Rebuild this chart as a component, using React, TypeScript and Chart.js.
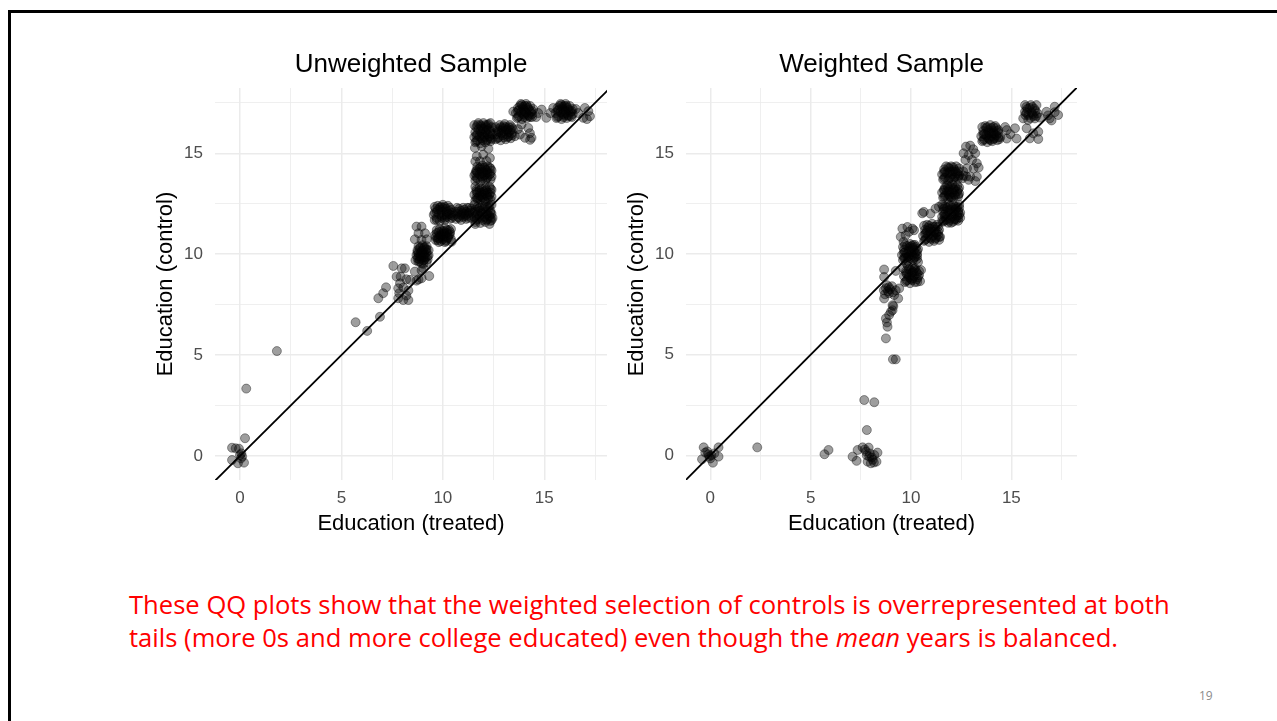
import React, { useEffect, useRef } from 'react';
import { Chart, registerables } from 'chart.js';

Chart.register(...registerables);

// ---- data (treated quantile, control quantile), jittered as in the original QQ plots ----
const unweightedPoints: [number, number][] = [
  [-0.39, 0.41], [-0.21, 0.38], [-0.05, 0.36], [0.07, 0.13], [0.11, -0.03], [-0.39, -0.2], [-0.1, -0.36], [0.2, -0.33], [0.0, 0.05], [0.05, -0.12],
  [0.25, 0.88], [0.31, 3.34], [1.82, 5.2],
  [5.7, 6.63], [6.27, 6.2], [6.9, 6.9], [6.82, 7.82], [7.06, 8.07], [7.2, 8.36],
  [7.56, 9.42], [7.72, 8.89], [7.92, 8.89], [7.97, 9.3], [8.13, 9.3], [7.89, 8.56], [7.8, 8.31], [7.85, 8.07], [7.8, 7.82], [8.05, 7.73],
  [8.3, 7.73], [8.38, 8.73], [8.3, 8.2], [8.05, 8.35], [8.2, 7.95], [8.2, 8.76], [8.62, 9.14], [8.7, 8.69], [8.8, 8.75], [8.95, 8.81],
  [9.33, 8.92], [9.04, 9.3], [8.79, 9.63], [8.95, 9.2],
  [8.65, 9.7], [8.85, 9.65], [9.05, 9.7], [9.25, 9.75], [8.7, 9.95], [8.9, 9.9], [9.1, 10.0], [9.3, 9.95], [8.75, 10.2], [8.95, 10.15],
  [9.15, 10.25], [9.3, 10.2], [8.8, 10.4], [9.0, 10.45], [9.2, 10.4], [8.9, 10.05], [9.05, 10.3], [9.04, 9.52],
  [8.75, 9.8], [8.95, 9.8], [9.15, 9.85], [8.8, 10.05], [9.0, 10.0], [9.2, 10.1], [8.85, 10.3], [9.1, 10.35], [8.95, 9.55], [9.2, 9.6],
  [8.85, 9.75], [9.05, 9.85], [8.8, 9.9], [9.0, 10.2], [9.2, 10.25], [8.9, 10.35], [9.1, 9.75], [8.75, 10.1], [9.25, 9.9], [9.0, 10.1],
  [8.62, 10.74], [8.95, 10.71], [9.2, 10.74], [8.8, 11.04], [9.12, 11.04], [8.7, 11.37], [8.95, 11.37],
  [9.65, 10.7], [9.9, 10.65], [10.15, 10.7], [10.4, 10.75], [9.6, 10.95], [9.85, 10.95], [10.1, 10.9], [10.35, 11.0], [9.7, 11.2], [9.95, 11.15],
  [10.2, 11.2], [10.4, 11.25], [9.8, 10.8], [10.05, 11.05], [10.25, 10.85], [10.43, 10.62],
  [9.75, 10.8], [10.0, 10.75], [10.25, 10.8], [9.7, 11.05], [9.95, 11.0], [10.2, 11.05], [10.35, 11.1], [9.85, 11.25], [10.1, 11.3], [9.8, 10.6], [10.1, 10.6],
  [9.75, 10.7], [10.0, 10.85], [10.3, 10.95], [9.8, 11.1], [10.05, 11.15], [10.3, 11.2], [9.65, 10.85], [10.15, 10.65], [9.9, 10.9], [10.1, 11.0],
  [9.6, 11.7], [9.85, 11.65], [10.1, 11.7], [10.35, 11.75], [9.55, 11.95], [9.8, 12.0], [10.05, 11.95], [10.3, 12.0], [10.5, 11.9], [9.65, 12.25],
  [9.9, 12.2], [10.15, 12.25], [10.4, 12.2], [9.75, 12.4], [10.0, 12.45], [10.25, 12.4],
  [9.7, 11.8], [9.95, 11.8], [10.2, 11.85], [10.45, 11.8], [9.7, 12.1], [9.95, 12.1], [10.2, 12.1], [10.45, 12.05], [9.85, 12.3], [10.1, 12.35], [10.35, 12.3], [9.6, 12.35],
  [9.7, 11.7], [9.95, 11.9], [10.2, 11.95], [10.4, 11.95], [9.75, 12.2], [10.0, 12.3], [10.3, 12.15], [9.6, 12.05], [10.1, 11.8], [9.9, 12.35],
  [10.65, 11.75], [10.9, 11.7], [11.15, 11.75], [11.4, 11.8], [10.7, 12.0], [10.95, 12.05], [11.2, 12.0], [11.45, 12.05], [10.8, 12.25], [11.05, 12.2],
  [11.3, 12.3], [10.6, 12.1], [11.1, 11.9],
  [10.75, 11.85], [11.0, 11.85], [11.25, 11.9], [11.35, 12.15], [10.9, 12.15], [11.15, 12.1], [10.7, 12.3], [11.2, 12.3],
  [10.8, 11.8], [11.05, 12.0], [11.3, 12.05], [11.0, 12.3], [10.75, 12.1], [11.25, 11.8], [11.4, 12.25], [10.9, 11.95],
  [11.6, 11.6], [11.85, 11.55], [12.1, 11.6], [12.35, 11.65], [11.55, 11.85], [11.8, 11.9], [12.05, 11.85], [12.3, 11.9], [12.45, 11.8], [11.6, 12.1],
  [11.85, 12.15], [12.1, 12.1], [12.35, 12.15], [11.7, 12.35], [11.95, 12.4], [12.2, 12.35], [12.4, 12.45], [11.55, 12.45],
  [11.7, 11.75], [11.95, 11.7], [12.2, 11.75], [12.4, 11.7], [11.7, 12.0], [11.95, 12.0], [12.2, 12.0], [12.4, 12.0], [11.75, 12.25], [12.0, 12.25],
  [12.25, 12.25], [11.6, 11.5], [12.3, 11.5],
  [11.65, 11.7], [11.9, 11.8], [12.15, 11.7], [12.35, 11.8], [11.65, 11.95], [11.9, 12.05], [12.15, 11.95], [12.35, 12.05], [11.8, 12.3], [12.05, 12.35],
  [12.3, 12.4], [11.6, 12.2],
  [11.6, 12.65], [11.85, 12.7], [12.1, 12.6], [12.35, 12.7], [11.55, 12.95], [11.8, 12.9], [12.05, 13.0], [12.3, 12.95], [11.65, 13.2], [11.9, 13.25],
  [12.15, 13.2], [12.4, 13.2], [11.75, 12.8], [12.2, 12.85], [12.0, 13.1],
  [11.7, 12.75], [11.95, 12.8], [12.25, 12.75], [11.7, 13.05], [11.95, 12.95], [12.2, 13.05], [12.4, 12.85], [11.8, 13.15], [12.1, 13.3], [11.6, 13.35], [12.3, 13.35],
  [11.65, 12.8], [11.9, 12.85], [12.15, 12.9], [12.35, 13.05], [11.65, 13.1], [11.9, 13.05], [12.1, 13.15], [12.35, 13.25], [11.8, 13.3], [12.05, 12.7],
  [11.6, 13.65], [11.85, 13.6], [12.1, 13.65], [12.35, 13.7], [11.55, 13.9], [11.8, 13.95], [12.05, 13.9], [12.3, 13.95], [11.65, 14.15], [11.9, 14.2],
  [12.15, 14.15], [12.4, 14.15], [11.7, 14.35], [11.95, 14.4], [12.2, 14.35], [12.0, 14.05],
  [11.7, 13.75], [11.95, 13.75], [12.2, 13.8], [12.4, 13.85], [11.7, 14.05], [11.95, 14.0], [12.2, 14.05], [11.8, 14.25], [12.05, 14.3], [12.3, 14.3], [11.6, 14.0],
  [11.65, 13.8], [11.9, 13.85], [12.15, 13.75], [12.35, 14.0], [11.65, 14.1], [11.9, 14.1], [12.1, 14.2], [12.35, 14.25], [11.85, 14.3], [12.1, 13.95],
  [11.58, 15.27], [11.91, 15.35], [12.24, 15.23], [11.67, 14.86], [11.99, 14.94], [12.32, 14.77], [11.83, 14.61], [12.15, 14.62], [11.6, 14.6],
  [11.6, 15.55], [11.85, 15.5], [12.1, 15.55], [12.35, 15.6], [11.55, 15.8], [11.8, 15.85], [12.05, 15.8], [12.3, 15.85], [11.6, 16.05], [11.85, 16.1],
  [12.1, 16.05], [12.35, 16.1], [11.65, 16.3], [11.9, 16.35], [12.15, 16.3], [12.4, 16.3], [11.75, 16.5], [12.0, 16.5], [12.25, 16.45], [12.45, 15.95],
  [11.7, 15.65], [11.95, 15.65], [12.2, 15.7], [12.4, 15.7], [11.7, 15.95], [11.95, 15.95], [12.2, 15.95], [11.75, 16.2], [12.0, 16.2], [12.25, 16.2],
  [11.85, 16.4], [12.1, 16.4], [11.55, 16.4], [12.35, 16.5],
  [11.65, 15.6], [11.9, 15.75], [12.15, 15.65], [12.35, 15.75], [11.65, 15.9], [11.9, 16.0], [12.15, 16.15], [12.35, 16.0], [11.7, 16.4], [11.95, 16.25],
  [12.2, 16.4], [12.0, 15.85],
  [12.6, 15.7], [12.85, 15.65], [13.1, 15.7], [13.35, 15.75], [12.65, 15.95], [12.9, 16.0], [13.15, 15.95], [13.4, 16.0], [12.7, 16.2], [12.95, 16.25],
  [13.2, 16.2], [13.45, 16.2], [12.8, 16.4], [13.05, 16.45], [13.3, 16.4], [13.55, 15.85],
  [12.75, 15.8], [13.0, 15.8], [13.25, 15.85], [12.75, 16.05], [13.0, 16.1], [13.25, 16.05], [12.85, 16.3], [13.1, 16.3], [13.4, 16.3], [12.6, 16.3],
  [12.7, 15.75], [12.95, 15.9], [13.2, 15.8], [13.4, 15.9], [12.7, 16.1], [12.9, 16.15], [13.15, 16.15], [13.35, 16.15], [13.0, 16.35], [13.25, 16.3],
  [13.8, 15.93], [14.05, 15.77], [14.37, 15.77], [13.88, 16.43], [14.21, 16.26], [14.29, 16.0], [14.3, 15.67], [13.7, 16.2],
  [13.47, 17.07], [13.65, 16.75], [13.9, 16.7], [14.15, 16.75], [14.4, 16.8], [13.6, 17.0], [13.85, 17.05], [14.1, 17.0], [14.35, 17.05], [13.7, 17.25],
  [13.95, 17.3], [14.2, 17.25], [14.45, 17.2], [13.85, 17.45], [14.1, 17.45], [14.0, 16.9],
  [13.75, 16.85], [14.0, 16.8], [14.25, 16.85], [13.75, 17.15], [14.0, 17.15], [14.25, 17.15], [14.4, 16.95], [13.8, 17.35], [14.05, 17.35], [14.3, 17.35],
  [13.7, 16.8], [13.95, 16.95], [14.2, 16.9], [14.4, 17.1], [13.7, 17.1], [13.95, 17.2], [14.15, 17.35], [13.9, 17.4], [14.3, 16.8], [14.05, 17.05],
  [14.7, 17.0], [15.1, 16.76], [14.87, 17.17], [15.44, 17.25], [14.6, 16.8], [15.3, 17.0],
  [15.6, 16.75], [15.85, 16.7], [16.1, 16.75], [16.35, 16.8], [15.55, 17.0], [15.8, 17.05], [16.05, 17.0], [16.3, 17.05], [15.65, 17.25], [15.9, 17.3],
  [16.15, 17.25], [16.4, 17.2], [15.8, 17.45], [16.05, 17.45], [16.0, 16.9],
  [15.7, 16.85], [15.95, 16.8], [16.2, 16.85], [15.7, 17.15], [15.95, 17.15], [16.2, 17.15], [16.4, 16.95], [15.75, 17.35], [16.0, 17.35], [16.25, 17.35],
  [15.65, 16.8], [15.9, 16.95], [16.15, 16.9], [16.35, 17.1], [15.65, 17.1], [15.9, 17.2], [16.1, 17.35], [15.85, 17.4], [16.3, 16.85], [16.05, 17.1],
  [16.67, 17.0], [16.92, 16.76], [17.17, 17.09], [17.0, 17.25], [17.25, 16.84], [16.55, 17.2], [17.1, 16.7],
];

const weightedPoints: [number, number][] = [
  [-0.33, 0.4], [-0.25, 0.14], [-0.1, 0.05], [0.05, 0.0], [0.41, 0.4], [0.41, -0.06], [0.13, -0.36], [-0.41, -0.19], [-0.15, 0.2], [0.0, -0.15],
  [0.2, 0.1], [-0.05, -0.05],
  [2.34, 0.4],
  [5.69, 0.06], [5.89, 0.27],
  [7.09, -0.06], [7.29, -0.27], [7.34, 0.27], [7.59, 0.4], [7.76, 0.19], [7.89, 0.39], [7.92, -0.06], [7.84, -0.31], [8.09, -0.22], [8.17, 0.02],
  [8.33, 0.14], [8.28, -0.31], [8.0, -0.39], [7.7, 0.3], [7.95, 0.1], [8.05, -0.1], [7.8, 0.0], [8.15, -0.35],
  [7.67, 2.75], [8.17, 2.64], [7.8, 1.26],
  [9.1, 4.77], [9.24, 4.77], [8.75, 5.81],
  [8.83, 6.39], [8.75, 6.8], [8.91, 6.97], [9.08, 7.21], [9.12, 7.41], [8.66, 7.79], [8.8, 6.6], [9.0, 7.13], [9.08, 7.46],
  [8.7, 8.0], [8.9, 8.05], [9.1, 8.1], [8.75, 8.3], [8.95, 8.25], [8.8, 8.45], [9.05, 8.4], [8.85, 8.15], [8.65, 8.2], [8.9, 8.35],
  [9.24, 8.2], [9.36, 7.79], [9.16, 7.96], [9.41, 8.29],
  [8.66, 9.23], [8.66, 8.86], [9.24, 9.16],
  [9.7, 8.6], [9.95, 8.55], [10.2, 8.6], [10.45, 8.65], [9.65, 8.9], [9.9, 8.85], [10.15, 8.9], [10.4, 8.95], [9.75, 9.15], [10.0, 9.2],
  [10.25, 9.15], [10.5, 9.2], [9.85, 9.4], [10.1, 9.35], [10.31, 8.62], [9.6, 9.3], [10.0, 8.75],
  [9.8, 8.7], [10.05, 8.7], [10.3, 8.75], [9.8, 9.0], [10.05, 9.05], [10.3, 9.05], [9.9, 9.25], [10.2, 9.3],
  [9.75, 8.65], [10.1, 8.8], [10.35, 8.85], [9.75, 9.05], [10.1, 9.1], [10.4, 9.15], [9.9, 8.95], [10.15, 9.25],
  [9.6, 9.7], [9.85, 9.65], [10.1, 9.7], [10.3, 9.75], [9.55, 9.95], [9.8, 10.0], [10.05, 9.95], [10.3, 10.0], [9.65, 10.2], [9.9, 10.25],
  [10.15, 10.2], [10.35, 10.25], [9.7, 10.45], [9.95, 10.5], [10.2, 10.45], [10.0, 10.1], [9.85, 9.85], [10.2, 10.05],
  [9.7, 9.8], [9.95, 9.8], [10.2, 9.85], [9.7, 10.1], [9.95, 10.35], [10.25, 10.35], [9.6, 10.35], [10.35, 9.6], [9.75, 9.55], [10.1, 10.45],
  [9.65, 9.8], [9.9, 9.9], [10.15, 9.8], [10.3, 9.9], [9.65, 10.05], [9.9, 10.15], [10.1, 10.3], [10.3, 10.15], [9.8, 10.4], [10.05, 10.4],
  [9.73, 10.93], [9.82, 11.34], [9.63, 10.6], [10.15, 11.18], [9.57, 11.26], [10.07, 11.26], [9.49, 10.85], [9.9, 11.1],
  [10.64, 12.09], [10.97, 12.0], [11.22, 12.25], [11.39, 12.34], [10.56, 12.02],
  [10.65, 10.65], [10.9, 10.6], [11.15, 10.65], [11.4, 10.7], [10.6, 10.9], [10.85, 10.95], [11.1, 10.9], [11.35, 10.95], [10.7, 11.2], [10.95, 11.25],
  [11.2, 11.2], [11.4, 11.2], [10.8, 11.45], [11.05, 11.5], [11.3, 11.45], [11.0, 11.05],
  [10.75, 10.75], [11.0, 10.75], [11.25, 10.8], [10.75, 11.05], [11.25, 11.05], [10.85, 11.3], [11.1, 11.35], [11.35, 11.35], [10.65, 11.4], [11.45, 10.85],
  [10.7, 10.7], [10.95, 10.8], [11.2, 10.75], [11.4, 10.85], [10.7, 11.0], [10.95, 11.1], [11.15, 11.1], [11.35, 11.1], [10.9, 11.4], [11.2, 11.35], [10.8, 11.15],
  [11.6, 11.6], [11.85, 11.55], [12.1, 11.6], [12.35, 11.65], [11.55, 11.85], [11.8, 11.9], [12.05, 11.85], [12.3, 11.9], [12.45, 11.8], [11.6, 12.1],
  [11.85, 12.15], [12.1, 12.1], [12.35, 12.15], [11.7, 12.35], [11.95, 12.4], [12.2, 12.35], [12.4, 12.45], [11.55, 12.45], [12.0, 12.0], [12.2, 11.75],
  [11.75, 11.7], [12.25, 12.25],
  [11.7, 11.85], [11.95, 11.75], [12.25, 11.7], [12.4, 11.95], [11.7, 12.0], [11.95, 12.2], [12.2, 12.2], [11.65, 12.25], [11.85, 12.45], [12.1, 12.45],
  [12.4, 12.3], [11.55, 11.65], [12.45, 12.05],
  [11.65, 11.65], [11.9, 11.65], [12.15, 11.7], [12.35, 11.8], [11.65, 11.95], [11.9, 12.05], [12.15, 12.0], [12.35, 12.05], [11.8, 12.3], [12.05, 12.3],
  [12.3, 12.35], [11.6, 12.35], [12.0, 11.55],
  [11.6, 12.8], [11.85, 12.75], [12.1, 12.8], [12.35, 12.85], [11.55, 13.05], [11.8, 13.1], [12.05, 13.05], [12.3, 13.1], [11.7, 13.3], [11.95, 13.35],
  [12.2, 13.3], [12.4, 13.3], [11.9, 12.95],
  [11.7, 12.9], [11.95, 12.85], [12.2, 12.9], [12.4, 13.0], [11.65, 13.2], [11.9, 13.2], [12.15, 13.2], [12.3, 13.4], [11.8, 13.4], [12.05, 13.45],
  [11.65, 12.85], [11.9, 12.9], [12.15, 12.95], [12.35, 12.95], [11.65, 13.15], [11.9, 13.1], [12.1, 13.25], [12.35, 13.2], [11.85, 13.3], [12.0, 12.8],
  [11.6, 13.7], [11.85, 13.65], [12.1, 13.7], [12.35, 13.75], [11.55, 13.95], [11.8, 14.0], [12.05, 13.95], [12.3, 14.0], [11.65, 14.2], [11.9, 14.25],
  [12.15, 14.2], [12.4, 14.25], [12.0, 14.35], [12.6, 14.1], [12.75, 13.85], [12.55, 13.75],
  [11.7, 13.8], [11.95, 13.8], [12.2, 13.85], [11.7, 14.1], [11.95, 14.1], [12.2, 14.1], [12.4, 13.9], [11.75, 14.35], [12.25, 14.35],
  [11.65, 13.75], [11.9, 13.75], [12.15, 13.8], [12.35, 13.85], [11.65, 14.05], [11.9, 14.05], [12.1, 14.1], [12.35, 14.1], [11.85, 14.3], [12.1, 14.3],
  [12.74, 15.33], [12.95, 15.38], [12.62, 15.0], [12.87, 14.91], [13.2, 15.0], [12.71, 14.67], [13.04, 14.67], [13.28, 14.5], [12.79, 14.25], [13.12, 14.25],
  [13.37, 14.29], [12.62, 13.89], [12.95, 13.84], [13.28, 13.84], [12.87, 13.68], [13.2, 13.62], [13.1, 15.2],
  [13.55, 15.6], [13.8, 15.55], [14.05, 15.6], [14.3, 15.65], [13.5, 15.85], [13.75, 15.9], [14.0, 15.85], [14.25, 15.9], [14.45, 15.8], [13.6, 16.1],
  [13.85, 16.15], [14.1, 16.1], [14.35, 16.15], [13.7, 16.35], [13.95, 16.4], [14.2, 16.35], [14.0, 16.0],
  [13.65, 15.7], [13.9, 15.7], [14.15, 15.75], [14.4, 15.7], [13.65, 15.95], [13.9, 16.0], [14.15, 15.95], [14.35, 16.0], [13.75, 16.25], [14.0, 16.25],
  [14.25, 16.25], [13.55, 16.3],
  [13.6, 15.65], [13.85, 15.75], [14.1, 15.7], [14.35, 15.8], [13.6, 15.95], [13.85, 16.05], [14.1, 16.0], [14.3, 16.1], [13.8, 16.3], [14.1, 16.3], [13.95, 15.65],
  [14.77, 16.15], [14.77, 15.73], [15.18, 16.24], [15.26, 15.73], [14.95, 15.95], [14.69, 16.3],
  [15.68, 17.39], [15.97, 17.39], [16.25, 17.39], [15.68, 17.06], [16.0, 17.03], [16.3, 16.98], [15.59, 16.73], [15.84, 16.65], [16.17, 16.73], [16.42, 16.77],
  [15.85, 16.9], [16.1, 16.85], [15.8, 17.2], [16.15, 17.2],
  [15.75, 17.3], [16.05, 17.3], [15.95, 16.75], [16.25, 16.85], [15.7, 16.9],
  [15.75, 17.0], [16.05, 16.95], [15.9, 17.25], [16.2, 17.1],
  [15.76, 16.24], [16.09, 15.99], [16.34, 16.07], [15.92, 15.74], [16.34, 15.71],
  [16.75, 17.06], [16.91, 16.73], [17.16, 17.31], [17.33, 16.9], [17.0, 16.63], [17.16, 17.04], [16.83, 16.88],
];

const labelTicks = [0, 5, 10, 15];
const gridValues = [0, 2.5, 5, 7.5, 10, 12.5, 15, 17.5];
const identityLine = [-5, 25];
const unweightedX = [-1.23, 18.09];
const unweightedY = [-1.19, 18.24];
const weightedX = [-1.21, 18.27];
const weightedY = [-1.22, 18.24];

const FONT = "'Liberation Sans', Arial, Helvetica, sans-serif";

type PanelProps = {
  title: string;
  points: [number, number][];
  xRange: number[];
  yRange: number[];
  left: number;
  top: number;
  yAxisWidth: number;
  yTitlePad: number;
};

function QQPanel({ title, points, xRange, yRange, left, top, yAxisWidth, yTitlePad }: PanelProps) {
  const ref = useRef<HTMLCanvasElement | null>(null);
  const W = 469;
  const H = 510;
  useEffect(() => {
    if (!ref.current) return;
    const gridWidth = (ctx: any) => {
      const v = ctx.tick ? ctx.tick.value : 0;
      return labelTicks.includes(v) ? 1.5 : 0.8;
    };
    const tickCb = (v: any) => (labelTicks.includes(Number(v)) ? String(v) : '');
    const chart = new Chart(ref.current, {
      type: 'scatter',
      data: {
        datasets: [
          {
            data: identityLine.map((v) => ({ x: v, y: v })),
            showLine: true,
            borderColor: '#000',
            borderWidth: 1.8,
            pointRadius: 0,
            fill: false,
          } as any,
          {
            data: points.map(([x, y]) => ({ x, y })),
            backgroundColor: 'rgba(0,0,0,0.38)',
            borderColor: 'rgba(0,0,0,0.42)',
            borderWidth: 0.9,
            pointRadius: 4.5,
          },
        ],
      },
      options: {
        animation: false,
        responsive: false,
        devicePixelRatio: 1,
        events: [],
        layout: { padding: { left: 0, right: 10, top: 0, bottom: 0 } },
        plugins: {
          legend: { display: false },
          tooltip: { enabled: false },
          title: {
            display: true,
            text: title,
            fullSize: false,
            color: '#000',
            font: { family: FONT, size: 26, weight: 'normal' as any },
            padding: { top: 19.4, bottom: 7.4 },
          },
        },
        scales: {
          x: {
            type: 'linear',
            min: xRange[0],
            max: xRange[1],
            afterFit: (s: any) => { s.height = 60; },
            afterBuildTicks: (s: any) => { s.ticks = gridValues.map((v) => ({ value: v })); },
            ticks: { callback: tickCb, color: '#4d4d4d', font: { family: FONT, size: 17 }, padding: 8, autoSkip: false, maxRotation: 0 },
            grid: { color: '#ebebeb', lineWidth: gridWidth, drawTicks: false },
            border: { display: false },
            title: { display: true, text: 'Education (treated)', color: '#000', font: { family: FONT, size: 22 }, padding: { top: 0, bottom: 2.8 } },
          },
          y: {
            type: 'linear',
            min: yRange[0],
            max: yRange[1],
            afterFit: (s: any) => { s.width = yAxisWidth; },
            afterBuildTicks: (s: any) => { s.ticks = gridValues.map((v) => ({ value: v })); },
            ticks: { callback: tickCb, color: '#4d4d4d', font: { family: FONT, size: 17 }, padding: 12, autoSkip: false },
            grid: { color: '#ebebeb', lineWidth: gridWidth, drawTicks: false },
            border: { display: false },
            title: { display: true, text: 'Education (control)', color: '#000', font: { family: FONT, size: 22 }, padding: { top: yTitlePad, bottom: 0 } },
          },
        },
      },
    } as any);
    return () => chart.destroy();
  }, []);
  return (
    <canvas
      ref={ref}
      width={W}
      height={H}
      style={{ position: 'absolute', left, top, width: W, height: H }}
    />
  );
}

export default function App() {
  return (
    <div style={{ position: 'fixed', left: 0, top: 0, width: 1277, height: 721, background: '#fff', overflow: 'hidden' }}>
      <div style={{ position: 'absolute', left: 8, top: 10, width: 1400, height: 900, borderTop: '3px solid #000', borderLeft: '3px solid #000' }} />
      <QQPanel title="Unweighted Sample" points={unweightedPoints} xRange={unweightedX} yRange={unweightedY} left={148} top={30} yAxisWidth={67} yTitlePad={4.8} />
      <QQPanel title="Weighted Sample" points={weightedPoints} xRange={weightedX} yRange={weightedY} left={618} top={30} yAxisWidth={68} yTitlePad={5.3} />
      <div style={{ position: 'absolute', left: 129, top: 588, color: '#ff0000', fontFamily: "'Open Sans', Lato, sans-serif", fontSize: 25.6, lineHeight: '33px', whiteSpace: 'nowrap' }}>
        <div>These QQ plots show that the weighted selection of controls is overrepresented at both</div>
        <div>tails (more 0s and more college educated) even though the <i>mean</i> years is balanced.</div>
      </div>
      <div style={{ position: 'absolute', left: 1199, top: 687, color: '#8c8c8c', fontFamily: "'Open Sans', Lato, sans-serif", fontSize: 12, WebkitFontSmoothing: 'antialiased' as any }}>19</div>
    </div>
  );
}
